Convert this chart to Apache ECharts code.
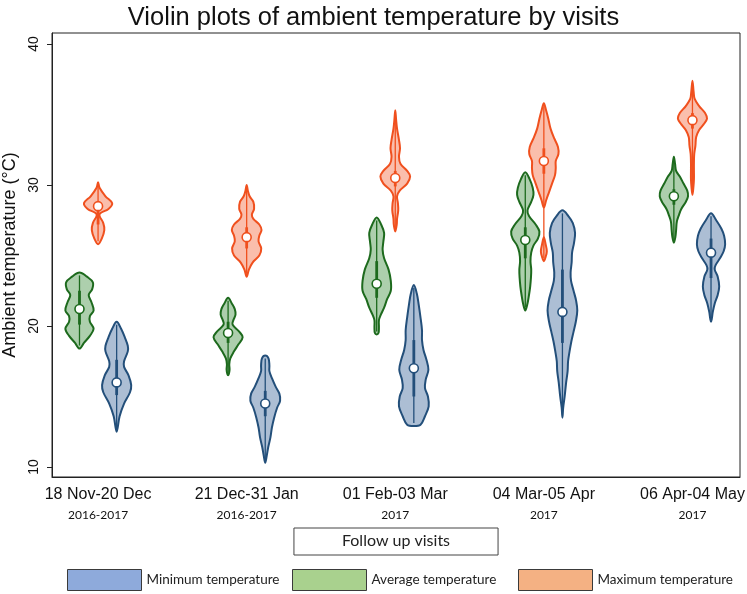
<!DOCTYPE html>
<html><head><meta charset="utf-8">
<script src="https://cdn.jsdelivr.net/npm/echarts@6/dist/echarts.min.js"></script>
<style>html,body{margin:0;padding:0;background:#fff}#c{width:747px;height:594px}</style>
</head><body><div id="c"></div>
<script>
// ---- data ----
const visits = ['18 Nov-20 Dec', '21 Dec-31 Jan', '01 Feb-03 Mar', '04 Mar-05 Apr', '06 Apr-04 May'];
const years = ['2016-2017', '2016-2017', '2017', '2017', '2017'];
const yTicks = [10, 20, 30, 40];
const groupIdx = [1, 2, 3, 4, 5];

// density profiles: [temperature, relative half-width]
const maxProfiles = [
  [[30.2,0],[29.8,0.1],[29.2,0.5],[28.7,0.95],[28.3,0.7],[28.0,0.15],[27.8,0.1],[27.3,0.35],[26.8,0.42],[26.2,0.25],[25.8,0]],
  [[30.0,0],[29.6,0.08],[29.2,0.2],[28.8,0.45],[28.3,0.5],[27.9,0.35],[27.6,0.45],[27.2,0.85],[26.8,1.0],[26.4,0.85],[26.0,0.8],[25.5,0.98],[25.0,0.85],[24.5,0.4],[24.0,0.15],[23.5,0]],
  [[35.3,0],[34.6,0.06],[34.0,0.12],[33.2,0.25],[32.6,0.32],[32.0,0.25],[31.5,0.35],[31.0,0.8],[30.6,1.0],[30.1,0.8],[29.6,0.3],[29.2,0.12],[28.7,0.18],[28.2,0.2],[27.6,0.12],[27.2,0.1],[26.7,0]],
  [[35.8,0],[35.3,0.15],[34.7,0.3],[34.0,0.45],[33.3,0.7],[32.7,0.95],[32.2,0.98],[31.7,0.8],[31.2,0.8],[30.7,0.75],[30.1,0.55],[29.5,0.35],[28.9,0.15],[28.4,0],[26.3,0],[25.8,0.12],[25.3,0.2],[24.9,0.12],[24.6,0]],
  [[37.4,0],[36.6,0.08],[36.1,0.15],[35.6,0.45],[35.1,0.85],[34.7,0.98],[34.3,0.75],[33.9,0.45],[33.4,0.25],[32.8,0.2],[32.2,0.12],[31.6,0.1],[31.0,0.1],[30.4,0.1],[29.8,0.06],[29.3,0]]
];
const avgProfiles = [
  [[23.8,0],[23.5,0.5],[23.1,0.9],[22.6,0.85],[22.2,0.62],[21.7,0.8],[21.1,0.95],[20.7,0.7],[20.3,0.7],[19.8,0.95],[19.3,0.7],[18.8,0.3],[18.4,0]],
  [[22.0,0],[21.6,0.25],[21.2,0.45],[20.8,0.5],[20.4,0.35],[20.1,0.3],[19.6,0.75],[19.2,0.98],[18.7,0.7],[18.2,0.4],[17.7,0.15],[17.3,0.08],[16.9,0.1],[16.6,0.05],[16.5,0]],
  [[27.7,0],[27.2,0.3],[26.6,0.5],[26.0,0.45],[25.4,0.4],[24.8,0.5],[24.0,0.8],[23.2,0.95],[22.5,0.95],[21.9,0.7],[21.3,0.5],[20.8,0.28],[20.4,0.15],[19.9,0.15],[19.5,0.12],[19.4,0]],
  [[30.9,0],[30.4,0.3],[29.8,0.5],[29.3,0.55],[28.8,0.4],[28.2,0.15],[27.8,0.25],[27.2,0.7],[26.7,0.95],[26.2,0.85],[25.7,0.55],[25.2,0.4],[24.6,0.35],[24.0,0.4],[23.4,0.38],[22.8,0.33],[22.2,0.25],[21.6,0.15],[21.1,0]],
  [[32.0,0],[31.5,0.08],[31.0,0.15],[30.6,0.4],[30.1,0.65],[29.6,0.9],[29.2,0.95],[28.8,0.8],[28.3,0.5],[27.9,0.35],[27.4,0.2],[26.8,0.15],[26.3,0.1],[25.9,0]]
];
const minProfiles = [
  [[20.3,0],[19.8,0.3],[19.2,0.55],[18.6,0.75],[18.2,0.75],[17.5,0.5],[17.1,0.5],[16.5,0.8],[15.8,0.98],[15.3,0.9],[14.5,0.5],[13.6,0.2],[12.5,0]],
  [[17.9,0],[17.7,0.22],[17.2,0.28],[16.8,0.28],[16.3,0.45],[15.7,0.7],[15.2,0.95],[14.7,1.0],[14.2,0.8],[13.5,0.6],[12.8,0.45],[12.1,0.35],[11.4,0.2],[10.8,0.1],[10.3,0]],
  [[22.9,0],[22.3,0.2],[21.5,0.33],[20.6,0.45],[19.7,0.55],[19.0,0.55],[18.3,0.65],[17.6,0.85],[16.9,0.98],[16.2,0.8],[15.6,0.75],[15.0,0.95],[14.3,1.0],[13.6,0.75],[13.0,0.45],[12.9,0]],
  [[28.2,0],[27.8,0.4],[27.3,0.7],[26.6,0.85],[25.9,0.78],[25.2,0.65],[24.5,0.62],[23.8,0.55],[23.2,0.58],[22.5,0.75],[21.8,0.92],[21.1,1.0],[20.3,0.9],[19.6,0.75],[18.9,0.6],[18.2,0.48],[17.5,0.38],[16.8,0.35],[16.0,0.25],[15.0,0.15],[14.2,0.05],[13.5,0]],
  [[28.0,0],[27.5,0.35],[26.9,0.7],[26.4,0.88],[25.8,0.95],[25.3,0.85],[24.8,0.6],[24.3,0.3],[24.0,0.25],[23.5,0.45],[22.8,0.55],[22.2,0.45],[21.6,0.25],[21.0,0.12],[20.5,0.05],[20.3,0]]
];

const maxMedian = [28.5, 26.3, 30.5, 31.7, 34.6];
const maxQ1 = [27.2, 25.5, 29.9, 30.8, 34.0];
const maxQ3 = [28.8, 27.0, 31.0, 32.6, 35.1];
const avgMedian = [21.2, 19.5, 23.0, 26.1, 29.2];
const avgQ1 = [20.1, 18.8, 22.0, 24.8, 28.6];
const avgQ3 = [22.5, 20.3, 24.6, 27.0, 29.7];
const minMedian = [16.0, 14.5, 17.0, 21.0, 25.2];
const minQ1 = [15.1, 13.6, 15.0, 18.8, 23.4];
const minQ3 = [17.6, 15.4, 19.0, 24.0, 26.2];

// ---- rendering ----
const HALF = 0.1; // max half-width in category units

function makeRender(profiles, q1, med, q3, offset, stroke, fill) {
  return function (params, api) {
    const i = params.dataIndex;
    const xc = api.value(0) + offset;
    const prof = profiles[i];
    const segs = []; let cur = [];
    prof.forEach(p => { cur.push(p); if (p[1] === 0 && cur.length > 1) { segs.push(cur); cur = []; } });
    if (cur.length > 1) segs.push(cur);
    const children = [];
    segs.forEach(seg => {
      const right = seg.map(p => api.coord([xc + p[1] * HALF, p[0]]));
      const left = seg.slice().reverse().map(p => api.coord([xc - p[1] * HALF, p[0]]));
      children.push({ type: 'polygon', shape: { points: right.concat(left.slice(1, -1)), smooth: 0.35 },
        style: { fill: fill, stroke: stroke, lineWidth: 2 } });
    });
    const temps = prof.map(p => p[0]);
    const hi = Math.max.apply(null, temps), lo = Math.min.apply(null, temps);
    const a = api.coord([xc, hi]), b = api.coord([xc, lo]);
    children.push({ type: 'line', shape: { x1: a[0], y1: a[1] + 3, x2: b[0], y2: b[1] - 3 }, style: { stroke: stroke, lineWidth: 1.3 } });
    const c = api.coord([xc, q3[i]]), d = api.coord([xc, q1[i]]);
    children.push({ type: 'line', shape: { x1: c[0], y1: c[1], x2: d[0], y2: d[1] }, style: { stroke: stroke, lineWidth: 2.8 } });
    const m = api.coord([xc, med[i]]);
    children.push({ type: 'circle', shape: { cx: m[0], cy: m[1], r: 4.5 }, style: { fill: '#fff', stroke: stroke, lineWidth: 1.6 } });
    return { type: 'group', children: children };
  };
}

const chart = echarts.init(document.getElementById('c'), null, { renderer: 'canvas' });

const legendBase = {
  top: 569, padding: 0, itemWidth: 74, itemHeight: 21, itemGap: 0,
  textStyle: { fontFamily: 'Lato', fontSize: 13.5, color: '#222', padding: [0, 0, 0, 0] },
  selectedMode: false
};

chart.setOption({
  backgroundColor: '#fff',
  animation: false,
  title: {
    text: 'Violin plots of ambient temperature by visits',
    left: 'center', top: 0,
    textStyle: { fontFamily: 'Liberation Sans', fontSize: 25.5, fontWeight: 'normal', color: '#111' }
  },
  grid: { left: 52, right: 7, top: 33, bottom: 117, show: true, borderColor: '#222', borderWidth: 1, outerBoundsMode: 'none', containLabel: false },
  xAxis: {
    type: 'value', min: 0.69, max: 5.32,
    name: 'Follow up visits', nameLocation: 'middle', nameGap: 51,
    nameTextStyle: { fontFamily: 'Lato', fontSize: 16, color: '#222', borderColor: '#444', borderWidth: 1, padding: [5, 48, 6, 48] },
    axisLine: { show: true, lineStyle: { color: '#222' } },
    axisTick: { show: false },
    splitLine: { show: false },
    axisLabel: {
      customValues: groupIdx, margin: 8,
      formatter: v => '{a|' + visits[v - 1] + '}\n{b|' + years[v - 1] + '}',
      rich: {
        a: { fontFamily: 'Liberation Sans', fontSize: 16, color: '#111', lineHeight: 20 },
        b: { fontFamily: 'Lato', fontSize: 12, color: '#111', lineHeight: 20 }
      }
    }
  },
  yAxis: {
    type: 'value', min: 9.29, max: 40.78,
    name: 'Ambient temperature (°C)', nameLocation: 'middle', nameGap: 30,
    nameTextStyle: { fontFamily: 'Liberation Sans', fontSize: 18, color: '#111' },
    axisLine: { show: true, lineStyle: { color: '#222' } },
    axisTick: { show: true, customValues: yTicks, length: 5, lineStyle: { color: '#222' } },
    splitLine: { show: false },
    axisLabel: { customValues: yTicks, rotate: 90, margin: 11, fontFamily: 'Liberation Sans', fontSize: 14, color: '#111' }
  },
  legend: [
    Object.assign({}, legendBase, { left: 67, data: [{ name: 'Minimum temperature', icon: 'rect', itemStyle: { color: '#8eaadb', borderColor: '#3a3a3a', borderWidth: 1 } }] }),
    Object.assign({}, legendBase, { left: 292, data: [{ name: 'Average temperature', icon: 'rect', itemStyle: { color: '#a9d18e', borderColor: '#3a3a3a', borderWidth: 1 } }] }),
    Object.assign({}, legendBase, { left: 518, data: [{ name: 'Maximum temperature', icon: 'rect', itemStyle: { color: '#f4b183', borderColor: '#3a3a3a', borderWidth: 1 } }] })
  ],
  series: [
    { type: 'custom', name: 'Average temperature', data: groupIdx.map(g => [g]),
      renderItem: makeRender(avgProfiles, avgQ1, avgMedian, avgQ3, -0.125, '#1d6a1d', 'rgba(60,140,60,0.42)') },
    { type: 'custom', name: 'Maximum temperature', data: groupIdx.map(g => [g]),
      renderItem: makeRender(maxProfiles, maxQ1, maxMedian, maxQ3, 0, '#f0501e', 'rgba(245,110,70,0.45)') },
    { type: 'custom', name: 'Minimum temperature', data: groupIdx.map(g => [g]),
      renderItem: makeRender(minProfiles, minQ1, minMedian, minQ3, 0.125, '#234f7a', 'rgba(70,110,160,0.45)') }
  ]
});
</script>
</body></html>
